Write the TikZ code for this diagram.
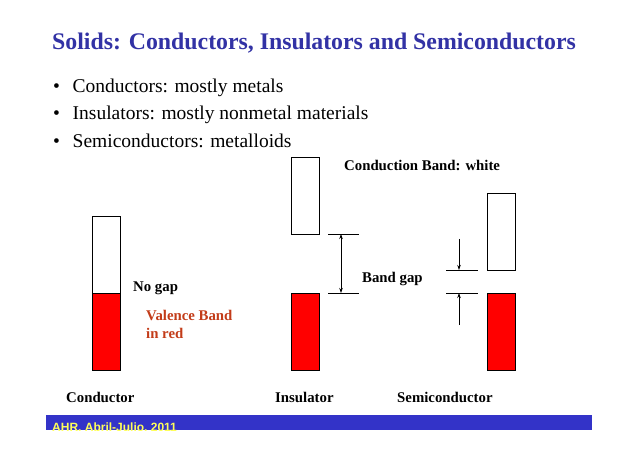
\documentclass[tikz,border=0pt]{standalone}
\usepackage{fontspec}
\setmainfont{Liberation Serif}
\newfontfamily\footfont{Liberation Sans}
\usetikzlibrary{arrows.meta}
\definecolor{titleblue}{RGB}{50,50,165}
\definecolor{barblue}{RGB}{51,51,200}
\definecolor{footyellow}{RGB}{255,255,90}
\definecolor{bandred}{RGB}{255,0,0}
\definecolor{labelred}{RGB}{195,60,25}
\begin{document}
\begin{tikzpicture}[x=1bp,y=-1bp,
  band/.style={draw=black,line width=0.8bp,inner sep=0pt,minimum width=28bp,minimum height=77bp,anchor=north west},
  cband/.style={band,fill=white},
  vband/.style={band,fill=bandred},
  gapline/.style={draw=black,line width=0.8bp},
  gaparrow/.style={draw=black,line width=0.8bp,-{Stealth[length=5bp,width=3.5bp]}},
  title/.style={anchor=base west,inner sep=0pt,font=\fontsize{23.8bp}{27bp}\selectfont\bfseries,text=titleblue},
  bullet/.style={anchor=base west,inner sep=0pt,font=\fontsize{19.5bp}{23bp}\selectfont},
  lbl/.style={anchor=base west,inner sep=0pt,font=\fontsize{14.8bp}{17bp}\selectfont\bfseries},
  vlbl/.style={lbl,text=labelred}]
\useasboundingbox (0,0) rectangle (638,451);
\fill[white] (0,0) rectangle (638,451);

% title and bullets
\node[title] (t) at (52,50) {Solids: Conductors, Insulators and Semiconductors};
\node[bullet] (b1d) at (53,93) {\textbullet};
\node[bullet] (b1) at (72.5,93) {Conductors: mostly metals};
\node[bullet] (b2d) at (53,120) {\textbullet};
\node[bullet] (b2) at (72.5,120) {Insulators: mostly nonmetal materials};
\node[bullet] (b3d) at (53,147.5) {\textbullet};
\node[bullet] (b3) at (72.5,147.5) {Semiconductors: metalloids};

% conductor
\node[cband] (cc) at (92,216) {};
\node[vband] (cv) at (92,293) {};
% insulator
\node[cband] (ic) at (291,157) {};
\node[vband] (iv) at (291,293) {};
% semiconductor
\node[cband] (sc) at (487,193) {};
\node[vband] (sv) at (487,293) {};

% insulator gap
\coordinate (ig1a) at (328,234); \coordinate (ig1b) at (359,234);
\coordinate (ig2a) at (328,293); \coordinate (ig2b) at (359,293);
\draw[gapline] (ig1a) -- (ig1b);
\draw[gapline] (ig2a) -- (ig2b);
\coordinate (ia1) at (341,234); \coordinate (ia2) at (341,293);
\draw[gaparrow,{Stealth[length=5bp,width=3.5bp]}-{Stealth[length=5bp,width=3.5bp]}] (ia1) -- (ia2);

% semiconductor gap
\coordinate (sg1a) at (446,270); \coordinate (sg1b) at (478,270);
\coordinate (sg2a) at (446,293); \coordinate (sg2b) at (478,293);
\draw[gapline] (sg1a) -- (sg1b);
\draw[gapline] (sg2a) -- (sg2b);
\coordinate (sa1s) at (459,239); \coordinate (sa1e) at (459,270);
\coordinate (sa2s) at (459,325); \coordinate (sa2e) at (459,293);
\draw[gaparrow] (sa1s) -- (sa1e);
\draw[gaparrow] (sa2s) -- (sa2e);

% labels
\node[lbl] (cbw) at (344,170.5) {Conduction Band: white};
\node[lbl] (bg) at (362,283) {Band gap};
\node[lbl] (ng) at (133,292) {No gap};
\node[vlbl] (vb1) at (146,320.5) {Valence Band};
\node[vlbl] (vb2) at (146,338) {in red};
\node[lbl] (lc) at (66,402) {Conductor};
\node[lbl] (li) at (275,402) {Insulator};
\node[lbl] (ls) at (397,402) {Semiconductor};

% footer bar
\fill[barblue] (46,415) rectangle (592,430);
\begin{scope}
\clip (46,415) rectangle (592,430);
\node[anchor=base west,inner sep=0pt,text=footyellow,font=\footfont\fontsize{12bp}{14bp}\selectfont\bfseries] (foot) at (52,431.5) {AHR, Abril-Julio, 2011};
\end{scope}
\end{tikzpicture}
\end{document}
